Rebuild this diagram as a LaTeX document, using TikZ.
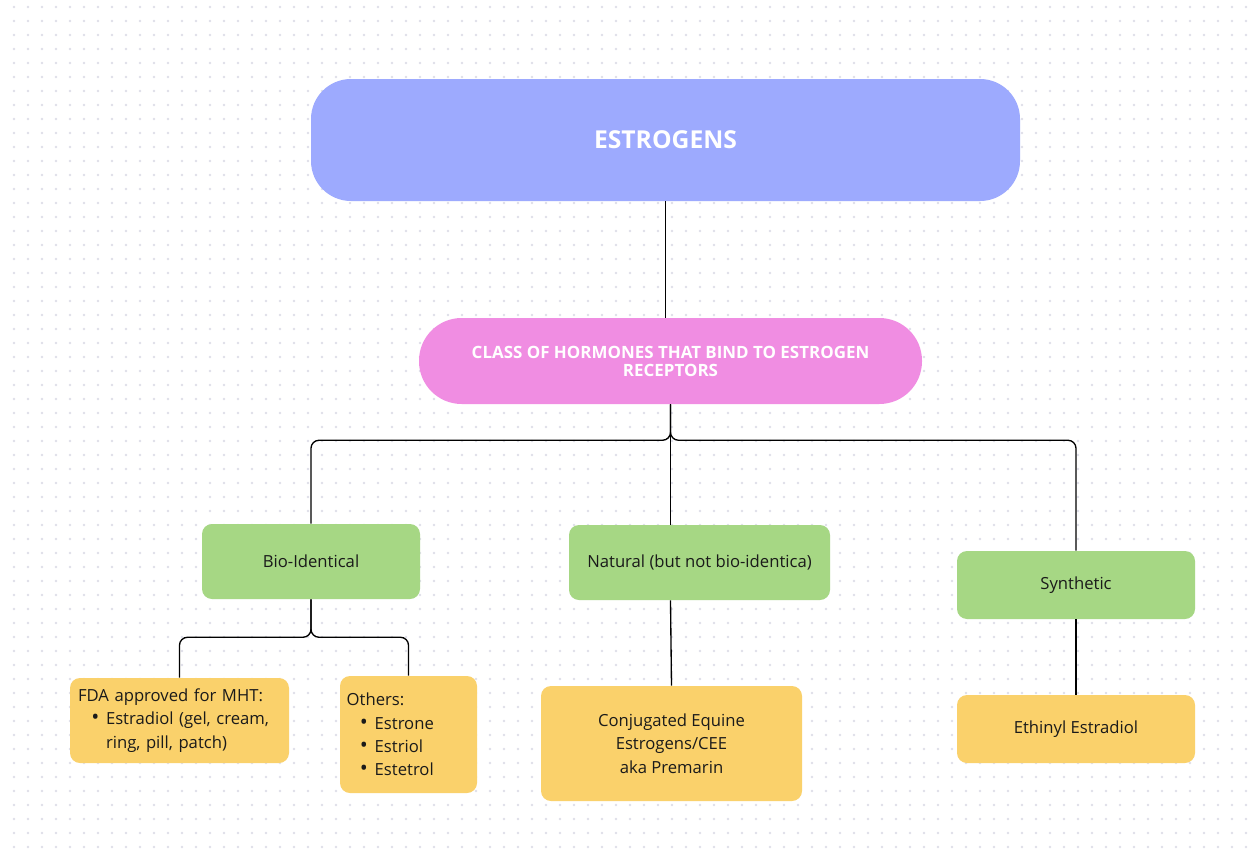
\documentclass[tikz,border=0pt]{standalone}
\usepackage{fontspec}
\setmainfont{Open Sans}
\usepackage{xcolor}
\usetikzlibrary{positioning}
\definecolor{estrocol}{HTML}{9DAAFE}
\definecolor{classcol}{HTML}{F08DE2}
\definecolor{catcol}{HTML}{A6D784}
\definecolor{leafcol}{HTML}{FAD16B}
\definecolor{dotcol}{HTML}{DEDEE8}
\definecolor{inkcol}{HTML}{1A1A1A}
\newcommand{\bulitem}{\makebox[21pt][r]{{\fontsize{16}{17.5}\selectfont\textbullet}\hspace{5pt}}}
\newcommand{\bulgap}{\hspace*{21pt}}

\begin{document}
\begin{tikzpicture}[x=0.75pt,y=-0.75pt,
  font={\fontsize{12.5}{17.5}\selectfont},text=inkcol,
  topbox/.style={fill=estrocol,rounded corners=30pt,minimum width=531.75pt,
                 minimum height=91.5pt,text=white,
                 font={\fontsize{18.5}{22}\selectfont\bfseries}},
  classbox/.style={fill=classcol,rounded corners=32pt,minimum width=377.25pt,
                   minimum height=64.5pt,text=white,align=center,
                   font={\fontsize{12.7}{13.5}\selectfont\bfseries}},
  catbox/.style={fill=catcol,rounded corners=7.5pt,align=center},
  leafbox/.style={fill=leafcol,rounded corners=7.5pt},
  link/.style={draw=black,line width=1pt,rounded corners=6pt},
]
% page and dotted backdrop
\useasboundingbox (0,0) rectangle (1257,860);
\fill[white] (0,0) rectangle (1257,860);
\foreach \i in {1,...,89}
  \foreach \j in {0,...,60}
    \fill[dotcol] (14*\i,7+14*\j) circle (1pt);

% top levels
\node[topbox] (estro) at (665.5,140) {ESTROGENS};
\node[classbox] (class) at (670.5,361)
  {CLASS OF HORMONES THAT BIND TO ESTROGEN\\RECEPTORS};

% categories
\node[catbox,minimum width=163.5pt,minimum height=56.25pt] (bio) at (311,561.5)
  {Bio-Identical};
\node[catbox,minimum width=195.75pt,minimum height=56.25pt] (nat) at (699.5,562.5)
  {Natural (but not bio-identica)};
\node[catbox,minimum width=178.5pt,minimum height=51pt] (syn) at (1076,585)
  {Synthetic};

% examples
\node[leafbox,minimum width=164.25pt,minimum height=63.75pt,inner xsep=6pt,
      text width=152.25pt,align=left] (fda) at (179.5,720.5)
  {FDA approved for MHT:\\
   \bulitem Estradiol (gel, cream,\\
   \bulgap ring, pill, patch)};
\node[leafbox,minimum width=102.75pt,minimum height=87.75pt,inner xsep=5pt,
      text width=92.75pt,align=left] (oth) at (408.5,734.5)
  {Others:\\
   \bulitem Estrone\\
   \bulitem Estriol\\
   \bulitem Estetrol\\[-6pt]};
\node[leafbox,minimum width=195.75pt,minimum height=86.25pt,align=center]
  (cee) at (671.5,743.5)
  {Conjugated Equine\\Estrogens/CEE\\aka Premarin};
\node[leafbox,minimum width=178.5pt,minimum height=51pt] (eth) at (1076,729)
  {Ethinyl Estradiol};

% connectors
\draw[link] (estro.south) -- (estro.south |- class.north);
\draw[link] (class.south) -- ++(0,36) -| (bio.north);
\draw[link] (class.south) -- (class.south |- nat.north);
\draw[link] (class.south) -- ++(0,36) -| (syn.north);
\draw[link] (bio.south) -- ++(0,38) -| (fda.north);
\draw[link] (bio.south) -- ++(0,38) -| (oth.north);
\draw[link] (nat.south -| class.south) -- (cee.north);
\draw[link] (syn.south) -- (eth.north);
\end{tikzpicture}
\end{document}
